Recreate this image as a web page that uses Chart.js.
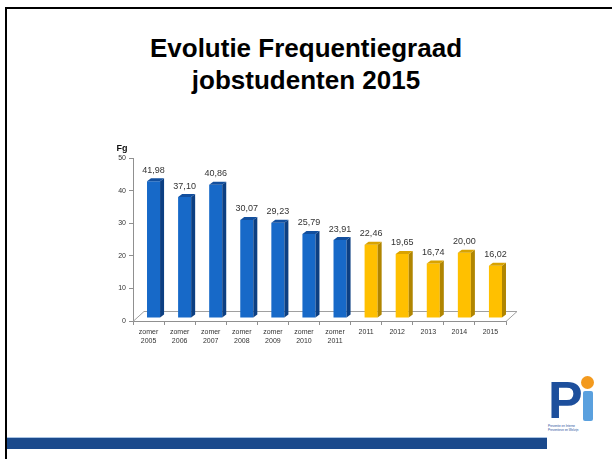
<!DOCTYPE html>
<html>
<head>
<meta charset="utf-8">
<script src="https://cdn.jsdelivr.net/npm/chart.js@4/dist/chart.umd.min.js"></script>
<style>
  body { margin: 0; width: 612px; height: 459px; background: #fff; overflow: hidden; position: relative; font-family: "Liberation Sans", Arial, sans-serif; }
  #frame { position: absolute; left: 5px; top: 7px; right: 0; bottom: 0; border-left: 2px solid #000; border-top: 2px solid #000; }
  #title { position: absolute; left: 0; width: 612px; top: 32px; text-align: center; font-weight: bold; font-size: 26px; line-height: 32px; color: #000; }
  #strip { position: absolute; left: 7px; width: 540px; top: 437px; height: 11px; background: #1b4a8c; border-top: 1px solid #a9c4e4; }
  #logo { position: absolute; left: 546px; top: 372px; width: 62px; height: 66px; }
  #logo .p { position: absolute; left: 2px; top: -2px; font: bold 52px "Liberation Sans", Arial, sans-serif; color: #1d4f9c; }
  #logo .i { position: absolute; left: 37px; top: 19px; width: 10px; height: 30px; background: #5aa0de; border-radius: 2px; }
  #logo .dot { position: absolute; left: 35px; top: 4px; width: 13px; height: 13px; background: #f39a1e; border-radius: 50%; }
  #logo .txt { position: absolute; left: 2px; top: 52px; font-size: 3px; line-height: 4px; color: #1d4f9c; white-space: nowrap; }
  canvas { position: absolute; left: 0; top: 0; }
</style>
</head>
<body>
<div id="frame"></div>
<div id="title">Evolutie Frequentiegraad<br>jobstudenten 2015</div>
<div id="strip"></div>
<div id="logo">
  <div class="p">P</div>
  <div class="dot"></div>
  <div class="i"></div>
  <div class="txt">Preventie en Interne<br>Preventieve en Welzijn</div>
</div>
<canvas id="fgChart" width="612" height="459"></canvas>
<script>
const categories = [
  ['zomer', '2005'], ['zomer', '2006'], ['zomer', '2007'], ['zomer', '2008'],
  ['zomer', '2009'], ['zomer', '2010'], ['zomer', '2011'],
  '2011', '2012', '2013', '2014', '2015'
];
const fgValues = [41.98, 37.10, 40.86, 30.07, 29.23, 25.79, 23.91, 22.46, 19.65, 16.74, 20.00, 16.02];
const yTicks = [0, 10, 20, 30, 40, 50];

const blue = { front: '#1769c8', side: '#0c3f82', top: '#124f9e' };
const yellow = { front: '#ffc000', side: '#b08500', top: '#d9a300' };
const barColors = categories.map(c => Array.isArray(c) ? blue : yellow);

// offset of the bars inside the floor, and depth of each bar
const shift = { x: 5, y: -3 };
const depth = { x: 4, y: -3 };

const bars3d = {
    id: 'bars3d',
    beforeDatasetsDraw(chart) {
        const ctx = chart.ctx;
        const a = chart.chartArea;
        // floor
        ctx.save();
        ctx.strokeStyle = '#a0a0a0';
        ctx.lineWidth = 1;
        ctx.beginPath();
        ctx.moveTo(a.left, a.bottom + 0.5);
        ctx.lineTo(a.left + 11, a.bottom - 9.5);
        ctx.lineTo(a.right + 11, a.bottom - 9.5);
        ctx.lineTo(a.right, a.bottom + 0.5);
        ctx.stroke();
        ctx.restore();
        ctx.save();
        ctx.translate(shift.x, shift.y);
    },
    afterDatasetsDraw(chart) {
        const ctx = chart.ctx;
        const meta = chart.getDatasetMeta(0);
        meta.data.forEach((bar, i) => {
            const c = barColors[i];
            const l = bar.x - bar.width / 2, r = bar.x + bar.width / 2;
            const t = bar.y, b = bar.base;
            ctx.fillStyle = c.side;
            ctx.beginPath();
            ctx.moveTo(r, b); ctx.lineTo(r, t);
            ctx.lineTo(r + depth.x, t + depth.y); ctx.lineTo(r + depth.x, b + depth.y);
            ctx.closePath(); ctx.fill();
            ctx.fillStyle = c.top;
            ctx.beginPath();
            ctx.moveTo(l, t); ctx.lineTo(r, t);
            ctx.lineTo(r + depth.x, t + depth.y); ctx.lineTo(l + depth.x, t + depth.y);
            ctx.closePath(); ctx.fill();
            // value labels
            ctx.fillStyle = '#333';
            ctx.font = '9px "Liberation Sans", Arial, sans-serif';
            ctx.textAlign = 'center';
            ctx.textBaseline = 'middle';
            ctx.fillText(fgValues[i].toFixed(2).replace('.', ','), bar.x, t - 11);
        });
        ctx.restore();
        // axis title
        const a = chart.chartArea;
        ctx.save();
        ctx.fillStyle = '#111';
        ctx.font = 'bold 9px "Liberation Sans", Arial, sans-serif';
        ctx.textAlign = 'center';
        ctx.textBaseline = 'middle';
        ctx.fillText('Fg', a.left - 11, a.top - 9);
        ctx.restore();
    }
};

const ctx = document.getElementById('fgChart').getContext('2d');
const fgChart = new Chart(ctx, {
    type: 'bar',
    data: {
        labels: categories,
        datasets: [{
            label: 'Fg',
            data: fgValues,
            backgroundColor: barColors.map(c => c.front),
            borderWidth: 0,
            categoryPercentage: 1,
            barPercentage: 0.42
        }]
    },
    options: {
        responsive: false,
        animation: false,
        layout: { padding: { left: 113, right: 106, top: 158, bottom: 110 } },
        plugins: { legend: { display: false }, tooltip: { enabled: false } },
        scales: {
            y: {
                min: 0,
                max: 50,
                afterFit: s => { s.width = 20; },
                afterBuildTicks: s => { s.ticks = yTicks.map(v => ({ value: v })); },
                ticks: { font: { size: 7, family: '"Liberation Sans", Arial, sans-serif' }, color: '#333', padding: 3 },
                grid: { drawOnChartArea: false, tickLength: 4, color: '#909090' },
                border: { color: '#909090' }
            },
            x: {
                afterFit: s => { s.height = 28; },
                ticks: { font: { size: 7, family: '"Liberation Sans", Arial, sans-serif' }, color: '#333', padding: 3, autoSkip: false, maxRotation: 0 },
                grid: { drawOnChartArea: false, tickLength: 4, color: '#909090', offset: true },
                border: { color: '#909090' }
            }
        }
    },
    plugins: [bars3d]
});
</script>
</body>
</html>
